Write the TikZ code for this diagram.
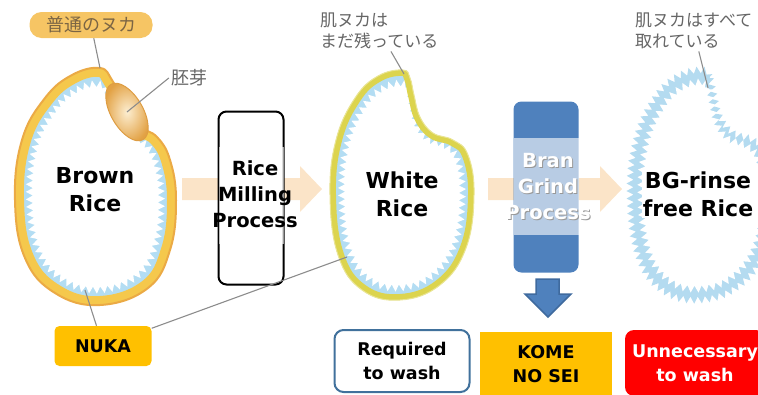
\documentclass[tikz,border=0pt]{standalone}
\usepackage{fontspec}
\setmainfont{DejaVu Sans}
\newfontfamily\jpfont{Noto Sans CJK JP}
\usepackage{tikz}
\usetikzlibrary{shapes.geometric, decorations.pathmorphing, positioning}

\definecolor{nukaorange}{HTML}{FFC000}
\definecolor{branblue}{HTML}{4F81BD}
\definecolor{branedge}{HTML}{3F6A9E}
\definecolor{edgeblue}{HTML}{41719C}
\definecolor{bandgold}{HTML}{F5C84C}
\definecolor{rimorange}{HTML}{EBAA45}
\definecolor{bandlime}{HTML}{DCD44E}
\definecolor{toothblue}{HTML}{B3DDF3}
\definecolor{ringblue}{HTML}{B4DBF0}
\definecolor{flowpeach}{HTML}{FBE4C8}
\definecolor{jpgray}{HTML}{666666}
\definecolor{pillorange}{HTML}{F6C564}
\definecolor{pilltext}{HTML}{7B6544}

\tikzset{
    tag/.style={rectangle, font=\bfseries\fontsize{17.5}{24}\selectfont, align=center, inner sep=0pt},
    leader/.style={draw=black!45, line width=1.1pt},
    teeth/.style={decorate, decoration={zigzag, segment length=7.5, amplitude=3.5}}
}

% grain outlines, relative to the grain centre
\newcommand{\brownpath}{plot[smooth cycle, tension=0.7] coordinates {(5,-122) (17,-110) (27,-90) (43,-65) (62,-53) (75,-30) (81,10) (75,60) (53,98) (5,115) (-40,103) (-70,68) (-80,10) (-73,-50) (-50,-92) (-23,-115)}}
\newcommand{\whitepath}{plot[smooth cycle, tension=0.7] coordinates {(1,-120) (8,-112) (12,-95) (18,-73) (31,-57) (51,-50) (66,-35) (72,5) (64,58) (38,95) (-2,110) (-40,100) (-64,65) (-72,5) (-66,-50) (-47,-92) (-24,-114)}}
\newcommand{\shtext}[1]{\makebox[0pt][l]{\kern1pt\raisebox{-1pt}{\textcolor{black!40}{#1}}}#1}

\begin{document}
\begin{tikzpicture}[x=1pt, y=-1pt]
    \tikzstyle{grain}=[font=\bfseries\fontsize{22}{28}\selectfont, align=center, fill=white, inner sep=1pt]
    \tikzstyle{proc}=[font=\bfseries\fontsize{19.5}{26}\selectfont, align=center, inner sep=0pt]
    \tikzstyle{band}=[rectangle, fill=white, fill opacity=0.6, minimum width=65, minimum height=97, inner sep=0pt]
    \tikzstyle{jp}=[font=\jpfont\fontsize{17}{21}\selectfont, text=jpgray, align=left, inner sep=2pt]

    \useasboundingbox (0,0) rectangle (758,394);

    % flow arrows
    \fill[flowpeach] (182,178) -- (300,178) -- (300,166) -- (322,189) -- (300,212) -- (300,200) -- (182,200) -- cycle;
    \fill[flowpeach] (488,178) -- (600,178) -- (600,166) -- (622,189) -- (600,212) -- (600,200) -- (488,200) -- cycle;

    % brown rice
    \begin{scope}[shift={(95,190)}]
        \begin{scope}
            \clip \brownpath;
            \fill[toothblue] \brownpath;
            \fill[white, teeth, xscale=0.82, yscale=0.87] \brownpath;
            \draw[bandgold, line width=18] \brownpath;
        \end{scope}
        \draw[rimorange, line width=2] \brownpath;
    \end{scope}
    \node (embryo) [ellipse, draw=rimorange!70!brown, line width=1pt, inner color=pillorange!30, outer color=rimorange!80!brown, shade, rotate=-60, minimum width=64, minimum height=32, inner sep=0pt] at (127,112) {};

    % white rice
    \begin{scope}[shift={(402,190)}]
        \begin{scope}
            \clip \whitepath;
            \fill[toothblue] \whitepath;
            \fill[white, teeth, xscale=0.84, yscale=0.89] \whitepath;
            \draw[bandlime, line width=12] \whitepath;
        \end{scope}
        \draw[bandlime!60, line width=1] \whitepath;
    \end{scope}

    % rinse-free rice
    \begin{scope}[shift={(702,190)}]
        \fill[ringblue, teeth] \whitepath;
        \fill[white, teeth, xscale=0.85, yscale=0.9] \whitepath;
    \end{scope}

    % process boxes
    \node (mill) [rectangle, draw, line width=2pt, rounded corners=8, fill=white, minimum width=65, minimum height=173] at (251,198) {};
    \node (mill_band) [band] at (251,195) {};
    \node (mill_text) [proc] at (255,194) {Rice\\Milling\\Process};

    \node (bran) [rectangle, fill=branblue, rounded corners=8, minimum width=65, minimum height=171] at (546,187) {};
    \node (bran_band) [band] at (546,186) {};
    \node (bran_text) [proc, text=white] at (548,187) {\shtext{Bran}\\\shtext{Grind}\\\shtext{Process}};
    \fill[branblue, draw=branedge, line width=1.5pt] (536,279) -- (559,279) -- (559,294) -- (571,294) -- (548,317) -- (525,294) -- (536,294) -- cycle;

    % grain names
    \node (brown_text) [grain] at (95,190) {Brown\\Rice};
    \node (white_text) [grain] at (402,194) {White\\Rice};
    \node (rinse_text) [grain] at (698,194) {BG-rinse\\free Rice};

    % notes on the bran layer
    \node (usual) [rectangle, rounded corners=12, fill=pillorange, text=pilltext, font=\jpfont\fontsize{18}{20}\selectfont, minimum width=123, minimum height=26, inner sep=0pt] at (91,25) {普通のヌカ};
    \node (germ) [jp, font=\jpfont\fontsize{18}{21}\selectfont] at (189,78) {胚芽};
    \node (remain) [jp, anchor=north west] at (318,11) {肌ヌカは\\まだ残っている};
    \node (removed) [jp, anchor=north west] at (633,11) {肌ヌカはすべて\\取れている};

    \coordinate (brown_top) at (100,68);
    \coordinate (brown_bottom) at (85,290);
    \coordinate (white_top) at (404,74);
    \coordinate (white_side) at (347,257);
    \coordinate (rinse_top) at (708,88);

    \draw[leader] (usual) -- (brown_top);
    \draw[leader] (germ.west) -- (embryo.center);
    \draw[leader] (remain) -- (white_top);
    \draw[leader] (removed) -- (rinse_top);

    % result boxes
    \node (nuka) [tag, fill=nukaorange, rounded corners=5, minimum width=97, minimum height=40] at (103,346) {NUKA};
    \draw[leader] (nuka) -- (brown_bottom);
    \draw[leader] (nuka) -- (white_side);

    \node (required) [tag, draw=edgeblue, line width=2pt, fill=white, rounded corners=9, minimum width=135, minimum height=62] at (402,361) {Required\\to wash};
    \node (kome) [tag, fill=nukaorange, minimum width=132, minimum height=64] at (546,364) {KOME\\NO SEI};
    \node (unneeded) [tag, fill=red, text=white, rounded corners=9, minimum width=140, minimum height=66] at (695,363) {Unnecessary\\to wash};
\end{tikzpicture}
\end{document}
